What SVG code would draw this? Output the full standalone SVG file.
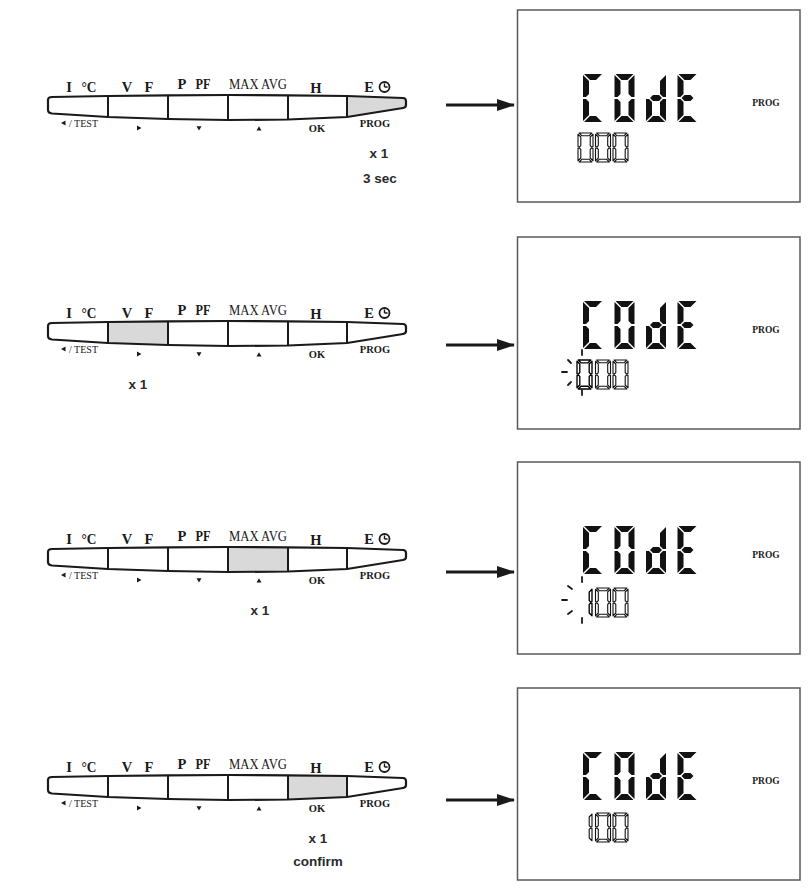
<svg xmlns="http://www.w3.org/2000/svg" xmlns:xlink="http://www.w3.org/1999/xlink" width="811" height="890" viewBox="0 0 811 890">
<style>
.lb{font-family:"Liberation Serif",serif;font-weight:bold;font-size:14.5px;fill:#1a1a1a;text-anchor:middle}
.lm{font-family:"Liberation Serif",serif;font-size:15px;fill:#1a1a1a;text-anchor:middle}
.ls{font-family:"Liberation Serif",serif;font-size:10px;fill:#1a1a1a}
.lp{font-family:"Liberation Serif",serif;font-weight:bold;font-size:10.5px;fill:#1a1a1a;text-anchor:middle}
.note{font-family:"Liberation Sans",Arial,sans-serif;font-weight:bold;font-size:13.5px;fill:#2a2a2a;text-anchor:middle}
.lcdp{font-family:"Liberation Serif",serif;font-weight:bold;font-size:9.5px;fill:#1a1a1a;text-anchor:middle}
.outline{fill:none;stroke:#1a1a1a;stroke-width:2.2;stroke-linejoin:round}
.div{stroke:#1a1a1a;stroke-width:2}
.hl{fill:#d9d9d9}
.tri{fill:#1a1a1a}
.box{fill:#fff;stroke:#5a5a5a;stroke-width:1.5}
.big{fill:#121212}
.sm{fill:#fff;stroke:#111;stroke-width:1.1;stroke-linejoin:round}
.smh{fill:#fff;stroke:#000;stroke-width:1.35;stroke-linejoin:round}
.ray{stroke:#1a1a1a;stroke-width:1.8;stroke-linecap:round}
.arrow{stroke:#1a1a1a;stroke-width:3;fill:none}
</style>
<defs>
<marker id="ah" markerUnits="userSpaceOnUse" markerWidth="18" markerHeight="12" refX="17" refY="6" orient="auto">
<path d="M0,0 L18,6 L0,12 z" fill="#1a1a1a"/>
</marker>
<!-- large LCD segments (20 x 48) -->
<polygon id="sa" points="1,0 19,0 13,6 7,6"/>
<polygon id="sb" points="20,1 20,23 17,23 14,20 14,7"/>
<polygon id="sc" points="20,25 20,47 14,41 14,28 17,25"/>
<polygon id="sd" points="7,42 13,42 19,48 1,48"/>
<polygon id="se" points="0,25 3,25 6,28 6,41 0,47"/>
<polygon id="sf" points="0,1 6,7 6,20 3,23 0,23"/>
<polygon id="sg" points="4,24 7,21 13,21 16,24 13,27 7,27"/>
<g id="dC"><use href="#sa"/><use href="#sf"/><use href="#se"/><use href="#sd"/></g>
<g id="d0"><use href="#sa"/><use href="#sb"/><use href="#sc"/><use href="#sd"/><use href="#se"/><use href="#sf"/></g>
<g id="dd"><use href="#sb"/><use href="#sc"/><use href="#sd"/><use href="#se"/><use href="#sg"/></g>
<g id="dE"><use href="#sa"/><use href="#sd"/><use href="#se"/><use href="#sf"/><use href="#sg"/></g>
<!-- small LCD segments (15 x 29) -->
<polygon id="ta" points="1.2,0 13.8,0 11,2.8 4,2.8"/>
<polygon id="tb" points="15,1.2 15,13.6 13.6,14 12.2,12.6 12.2,4"/>
<polygon id="tc" points="15,15.4 15,27.8 12.2,25 12.2,16.4 13.6,15"/>
<polygon id="td" points="4,26.2 11,26.2 13.8,29 1.2,29"/>
<polygon id="te" points="0,15.4 1.4,15 2.8,16.4 2.8,25 0,27.8"/>
<polygon id="tf" points="0,1.2 2.8,4 2.8,12.6 1.4,14 0,13.6"/>
<g id="s0"><use href="#ta"/><use href="#tb"/><use href="#tc"/><use href="#td"/><use href="#te"/><use href="#tf"/></g>
<g id="s1"><use href="#tb"/><use href="#tc"/></g>
<g id="codeWord" class="big">
<use href="#dC" x="583" y="74"/><use href="#d0" x="614.5" y="74"/><use href="#dd" x="646" y="74"/><use href="#dE" x="677.5" y="74"/>
</g>
<path id="barOutline" d="M52,97 L108,96 L168,95.3 L228,95 L288,95.3 L347,96 L403,98 Q406,98.2 406,101 L406,105 Q406,107.5 403,108 L347,117 L288,119.5 L228,120 L168,119 L108,117 L52,113.5 Q48,113 48,110 L48,100 Q48,97 52,97 Z"/>
<g id="barDividers">
<line x1="108" y1="96" x2="108" y2="117"/><line x1="168" y1="95.3" x2="168" y2="119"/><line x1="228" y1="95" x2="228" y2="120"/><line x1="288" y1="95.3" x2="288" y2="119.5"/><line x1="347" y1="96" x2="347" y2="117"/>
</g>
<g id="barIcons">
<circle cx="384.5" cy="87" r="5" fill="none" stroke="#1a1a1a" stroke-width="1.8"/>
<path d="M384.5,87 V83.6 M384.5,87 H387.6" stroke="#1a1a1a" stroke-width="1.4" fill="none"/>
<polygon class="tri" points="61,123 65.5,120.5 65.5,125.5"/>
<polygon class="tri" points="137,125.5 141.5,128 137,130.5"/>
<polygon class="tri" points="196.5,126.3 201.5,126.3 199,130.5"/>
<polygon class="tri" points="256.5,130.5 261.5,130.5 259,126.3"/>
</g>
</defs>
<rect width="811" height="890" fill="#fff"/>

<!-- Row 1 buttons -->
<g id="buttons-1">
<path class="hl" d="M347,96 L403,98 Q406,98.2 406,101 L406,105 Q406,107.5 403,108 L347,117 Z"/>
<use href="#barOutline" class="outline"/>
<use href="#barDividers" class="div"/>
<use href="#barIcons"/>
<text class="lb" x="69" y="92">I</text><text class="lb" x="89" y="92" textLength="15" lengthAdjust="spacingAndGlyphs">°C</text>
<text class="lb" x="127" y="92">V</text><text class="lb" x="149" y="92">F</text>
<text class="lb" x="182" y="89">P</text><text class="lb" x="203" y="89" textLength="15" lengthAdjust="spacingAndGlyphs">PF</text>
<text class="lm" x="258" y="89" textLength="58" lengthAdjust="spacingAndGlyphs">MAX AVG</text>
<text class="lb" x="316" y="92.5">H</text><text class="lb" x="369" y="92">E</text>
<text class="ls" x="69" y="126.5">/ TEST</text>
<text class="lp" x="317" y="131.5">OK</text>
<text class="lp" x="375" y="127">PROG</text>
</g>
<text class="note" x="379" y="158">x 1</text>
<text class="note" x="380" y="183">3 sec</text>

<!-- Row 2 buttons -->
<g id="buttons-2" transform="translate(0,226)">
<path class="hl" d="M108,96 L168,95.3 L168,119 L108,117 Z"/>
<use href="#barOutline" class="outline"/>
<use href="#barDividers" class="div"/>
<use href="#barIcons"/>
<text class="lb" x="69" y="92">I</text><text class="lb" x="89" y="92" textLength="15" lengthAdjust="spacingAndGlyphs">°C</text>
<text class="lb" x="127" y="92">V</text><text class="lb" x="149" y="92">F</text>
<text class="lb" x="182" y="89">P</text><text class="lb" x="203" y="89" textLength="15" lengthAdjust="spacingAndGlyphs">PF</text>
<text class="lm" x="258" y="89" textLength="58" lengthAdjust="spacingAndGlyphs">MAX AVG</text>
<text class="lb" x="316" y="92.5">H</text><text class="lb" x="369" y="92">E</text>
<text class="ls" x="69" y="126.5">/ TEST</text>
<text class="lp" x="317" y="131.5">OK</text>
<text class="lp" x="375" y="127">PROG</text>
</g>
<text class="note" x="138" y="389">x 1</text>

<!-- Row 3 buttons -->
<g id="buttons-3" transform="translate(0,452)">
<path class="hl" d="M228,95 L288,95.3 L288,119.5 L228,120 Z"/>
<use href="#barOutline" class="outline"/>
<use href="#barDividers" class="div"/>
<use href="#barIcons"/>
<text class="lb" x="69" y="92">I</text><text class="lb" x="89" y="92" textLength="15" lengthAdjust="spacingAndGlyphs">°C</text>
<text class="lb" x="127" y="92">V</text><text class="lb" x="149" y="92">F</text>
<text class="lb" x="182" y="89">P</text><text class="lb" x="203" y="89" textLength="15" lengthAdjust="spacingAndGlyphs">PF</text>
<text class="lm" x="258" y="89" textLength="58" lengthAdjust="spacingAndGlyphs">MAX AVG</text>
<text class="lb" x="316" y="92.5">H</text><text class="lb" x="369" y="92">E</text>
<text class="ls" x="69" y="126.5">/ TEST</text>
<text class="lp" x="317" y="131.5">OK</text>
<text class="lp" x="375" y="127">PROG</text>
</g>
<text class="note" x="260" y="615">x 1</text>

<!-- Row 4 buttons -->
<g id="buttons-4" transform="translate(0,680)">
<path class="hl" d="M288,95.3 L347,96 L347,117 L288,119.5 Z"/>
<use href="#barOutline" class="outline"/>
<use href="#barDividers" class="div"/>
<use href="#barIcons"/>
<text class="lb" x="69" y="92">I</text><text class="lb" x="89" y="92" textLength="15" lengthAdjust="spacingAndGlyphs">°C</text>
<text class="lb" x="127" y="92">V</text><text class="lb" x="149" y="92">F</text>
<text class="lb" x="182" y="89">P</text><text class="lb" x="203" y="89" textLength="15" lengthAdjust="spacingAndGlyphs">PF</text>
<text class="lm" x="258" y="89" textLength="58" lengthAdjust="spacingAndGlyphs">MAX AVG</text>
<text class="lb" x="316" y="92.5">H</text><text class="lb" x="369" y="92">E</text>
<text class="ls" x="69" y="126.5">/ TEST</text>
<text class="lp" x="317" y="131.5">OK</text>
<text class="lp" x="375" y="127">PROG</text>
</g>
<text class="note" x="318" y="843">x 1</text>
<text class="note" x="318" y="866">confirm</text>

<!-- LCD displays -->
<g id="lcd-1">
<rect class="box" x="517.5" y="10" width="282.5" height="192"/>
<use href="#codeWord"/>
<text class="lcdp" x="766" y="106">PROG</text>
<g class="sm">
<use href="#s0" x="578" y="133"/>
<use href="#s0" x="595.5" y="133"/>
<use href="#s0" x="613" y="133"/>
</g>
</g>

<g id="lcd-2">
<rect class="box" x="517.5" y="237" width="282.5" height="192"/>
<use href="#codeWord" y="227"/>
<text class="lcdp" x="766" y="333">PROG</text>
<use class="smh" href="#s0" x="577" y="360"/>
<g class="sm">
<use href="#s0" x="595.5" y="360"/>
<use href="#s0" x="613" y="360"/>
</g>
<g class="ray">
<line x1="582" y1="350" x2="582" y2="355"/>
<line x1="568" y1="360" x2="571" y2="363"/>
<line x1="562" y1="372" x2="567" y2="372"/>
<line x1="568" y1="385" x2="571" y2="382"/>
<line x1="582" y1="390" x2="582" y2="395"/>
</g>
</g>

<g id="lcd-3">
<rect class="box" x="517.5" y="462" width="282.5" height="192"/>
<use href="#codeWord" y="452"/>
<text class="lcdp" x="766" y="558">PROG</text>
<use class="smh" href="#s1" x="577" y="588"/>
<g class="sm">
<use href="#s0" x="595.5" y="588"/>
<use href="#s0" x="613" y="588"/>
</g>
<g class="ray">
<line x1="582" y1="577" x2="582" y2="582"/>
<line x1="568" y1="586" x2="572" y2="589"/>
<line x1="562" y1="600" x2="567" y2="600"/>
<line x1="568" y1="614" x2="572" y2="611"/>
<line x1="582" y1="618" x2="582" y2="623"/>
</g>
</g>

<g id="lcd-4">
<rect class="box" x="517.5" y="688" width="282.5" height="192"/>
<use href="#codeWord" y="678"/>
<text class="lcdp" x="766" y="784">PROG</text>
<g class="sm">
<use href="#s1" x="577" y="813"/>
<use href="#s0" x="595.5" y="813"/>
<use href="#s0" x="613" y="813"/>
</g>
</g>

<!-- Connectors -->
<g id="connectors">
<line class="arrow" x1="446" y1="105" x2="514" y2="105" marker-end="url(#ah)"/>
<line class="arrow" x1="446" y1="345" x2="514" y2="345" marker-end="url(#ah)"/>
<line class="arrow" x1="446" y1="572" x2="514" y2="572" marker-end="url(#ah)"/>
<line class="arrow" x1="446" y1="800" x2="514" y2="800" marker-end="url(#ah)"/>
</g>
</svg>
